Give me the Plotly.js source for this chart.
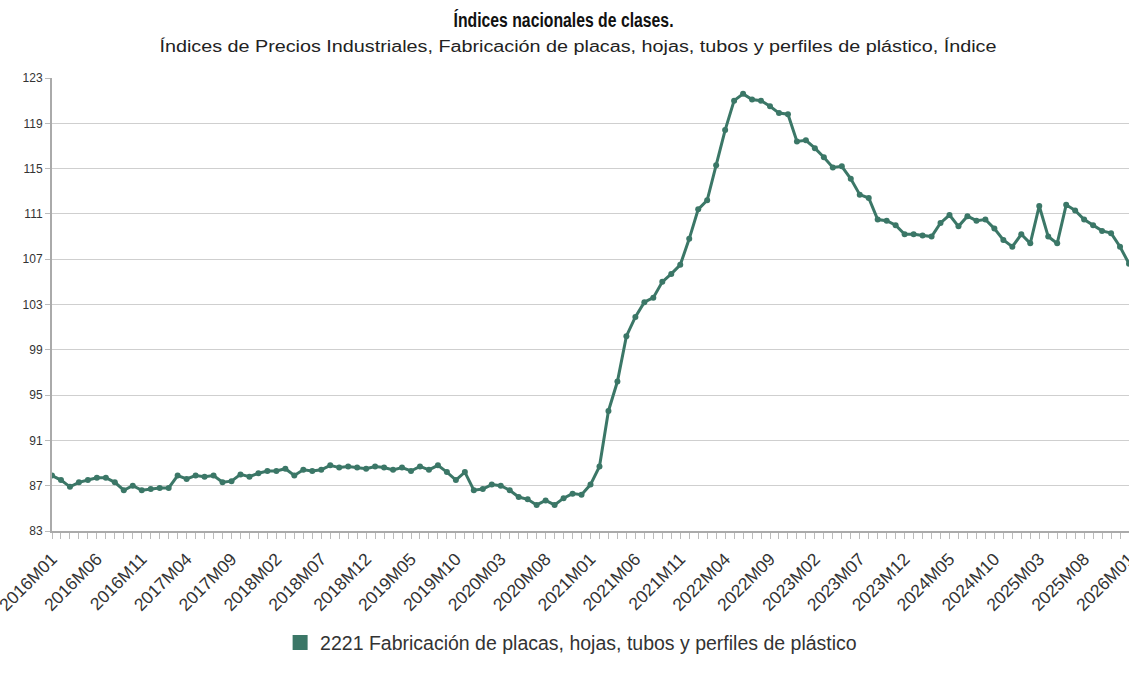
<!DOCTYPE html>
<html>
<head>
<meta charset="utf-8">
<script src="https://cdn.plot.ly/plotly-3.0.1.min.js"></script>
<style>
html,body{margin:0;padding:0;background:#fff;}
#chart{width:1129px;height:686px;}
</style>
</head>
<body>
<div id="chart"></div>
<script>
const startYear = 2016;
const periodCount = 121;
const periods = [];
for (let i = 0; i < periodCount; i++) {
  const y = startYear + Math.floor(i / 12);
  const m = (i % 12) + 1;
  periods.push(y + 'M' + (m < 10 ? '0' + m : m));
}

const values = [
  87.9, 87.5, 86.9, 87.3, 87.5, 87.7, 87.7, 87.3, 86.6, 87.0,
  86.6, 86.7, 86.8, 86.8, 87.9, 87.6, 87.9, 87.8, 87.9, 87.3,
  87.4, 88.0, 87.8, 88.1, 88.3, 88.3, 88.5, 87.9, 88.4, 88.3,
  88.4, 88.8, 88.6, 88.7, 88.6, 88.5, 88.7, 88.6, 88.4, 88.6,
  88.3, 88.7, 88.4, 88.8, 88.2, 87.5, 88.2, 86.6, 86.7, 87.1,
  87.0, 86.6, 86.0, 85.8, 85.3, 85.7, 85.3, 85.9, 86.3, 86.2,
  87.1, 88.7, 93.6, 96.2, 100.2, 101.9, 103.2, 103.6, 105.0, 105.7,
  106.5, 108.8, 111.4, 112.2, 115.3, 118.4, 121.0, 121.6, 121.1, 121.0,
  120.5, 119.9, 119.8, 117.4, 117.5, 116.8, 116.0, 115.1, 115.2, 114.1,
  112.7, 112.4, 110.5, 110.4, 110.0, 109.2, 109.2, 109.1, 109.0, 110.2,
  110.9, 109.9, 110.8, 110.4, 110.5, 109.7, 108.7, 108.1, 109.2, 108.4,
  111.7, 109.0, 108.4, 111.8, 111.3, 110.5, 110.0, 109.5, 109.3, 108.1,
  106.6
];

const tickLabels = ['2016M01','2016M06','2016M11','2017M04','2017M09','2018M02','2018M07','2018M12','2019M05','2019M10','2020M03','2020M08','2021M01','2021M06','2021M11','2022M04','2022M09','2023M02','2023M07','2023M12','2024M05','2024M10','2025M03','2025M08','2026M01'];
const yTicks = [83, 87, 91, 95, 99, 103, 107, 111, 115, 119, 123];

const seriesName = '2221 Fabricación de placas, hojas, tubos y perfiles de plástico';
const titleText = 'Índices nacionales de clases.';
const subtitleText = 'Índices de Precios Industriales, Fabricación de placas, hojas, tubos y perfiles de plástico, Índice';
const color = '#3b7767';

const traces = [
  {
    type: 'scatter', mode: 'lines+markers',
    x: periods, y: values, name: seriesName,
    line: {color: color, width: 3},
    marker: {color: color, size: 6},
    showlegend: false, cliponaxis: true
  },
  {
    type: 'bar', x: [null], y: [null], name: seriesName,
    marker: {color: color, line: {color: color, width: 3}}, showlegend: true, hoverinfo: 'skip'
  }
];

const layout = {
  width: 1129, height: 686,
  margin: {l: 52, r: 0, t: 78, b: 155},
  paper_bgcolor: '#fff', plot_bgcolor: '#fff',
  font: {family: 'Liberation Sans, Arial, sans-serif', color: '#333'},
  showlegend: true,
  legend: {orientation: 'h', x: 0.482, xanchor: 'center', y: -0.247, yanchor: 'middle',
           font: {size: 19.5, color: '#333'}},
  xaxis: {
    type: 'category', range: [0, 120], autorange: false,
    tickmode: 'array', tickvals: tickLabels, ticktext: tickLabels,
    tickangle: -45, tickfont: {size: 17.5, color: '#333'},
    ticks: 'outside', ticklen: 6, tickcolor: '#bbb', tickwidth: 1,
    ticklabelstandoff: 3,
    minor: {ticks: 'outside', ticklen: 6, tickcolor: '#bbb', dtick: 1, showgrid: false},
    showline: true, linecolor: '#aaa', linewidth: 2,
    showgrid: false, zeroline: false, fixedrange: true
  },
  yaxis: {
    range: [83, 123], autorange: false,
    tickmode: 'array', tickvals: yTicks,
    tickfont: {size: 12, color: '#333'},
    ticks: 'outside', ticklen: 5, tickcolor: '#bbb',
    showline: true, linecolor: '#aaa', linewidth: 2,
    showgrid: true, gridcolor: '#cfcfcf', gridwidth: 1,
    zeroline: false, fixedrange: true
  },
  annotations: [
    {text: '<b>' + titleText + '</b>', xref: 'paper', yref: 'paper', x: 0.475, y: 1.128,
     xanchor: 'center', yanchor: 'middle', showarrow: false, font: {size: 20, color: '#111'}},
    {text: subtitleText, xref: 'paper', yref: 'paper', x: 0.488, y: 1.071,
     xanchor: 'center', yanchor: 'middle', showarrow: false, font: {size: 16, color: '#222'}}
  ]
};

function fitText(el, len) {
  if (!el) return;
  el.setAttribute('textLength', len);
  el.setAttribute('lengthAdjust', 'spacingAndGlyphs');
}

Plotly.newPlot('chart', traces, layout, {displayModeBar: false, staticPlot: true}).then(function (gd) {
  const ann = gd.querySelectorAll('.annotation-text');
  if (ann.length >= 2) {
    [[ann[0], 220], [ann[1], 837]].forEach(function (p) {
      const el = p[0];
      const bb = el.getBBox();
      const cx = bb.x + bb.width / 2;
      el.setAttribute('text-anchor', 'middle');
      el.setAttribute('x', cx);
      fitText(el, p[1]);
    });
  }
});
</script>
</body>
</html>
